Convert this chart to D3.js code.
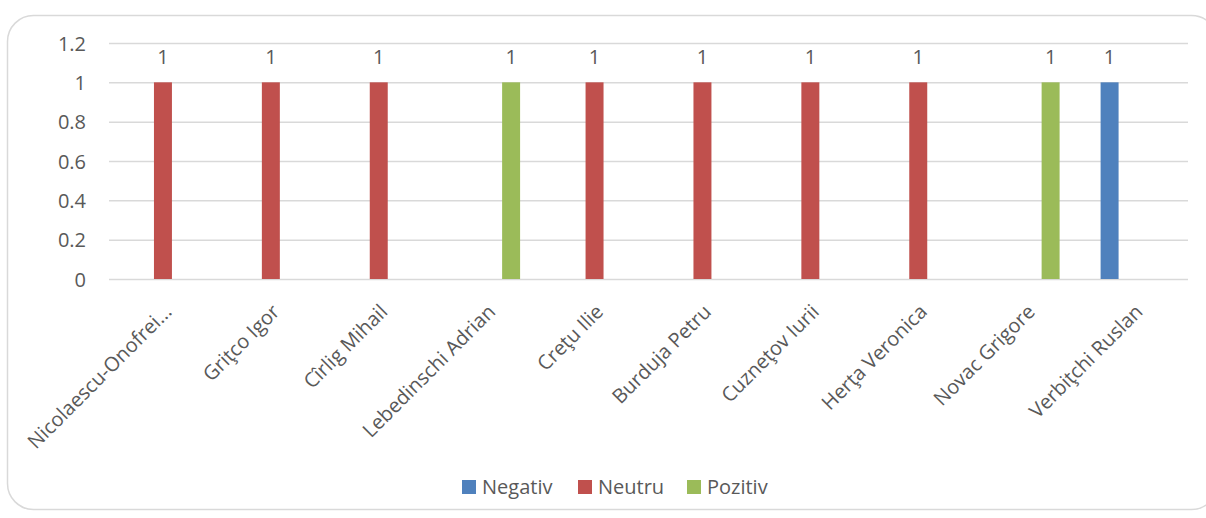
<!DOCTYPE html>
<html><head><meta charset="utf-8">
<script src="https://cdn.jsdelivr.net/npm/d3@7"></script>
<style>body{margin:0;background:#fff}svg{display:block}text{font-family:"Open Sans",sans-serif;fill:#595959}</style>
</head><body><svg id="c" width="1206" height="518"></svg>
<script>
const categories = ["Nicolaescu-Onofrei...","Griţco Igor","Cîrlig Mihail","Lebedinschi Adrian","Creţu Ilie","Burduja Petru","Cuzneţov Iurii","Herţa Veronica","Novac Grigore","Verbiţchi Ruslan"];
const seriesNames = ["Negativ","Neutru","Pozitiv"];
const negativ = [null,null,null,null,null,null,null,null,null,1];
const neutru  = [1,1,1,null,1,1,1,1,null,null];
const pozitiv = [null,null,null,1,null,null,null,null,1,null];
const yTicks = [0,0.2,0.4,0.6,0.8,1,1.2];
const colors = ["#4F81BD","#C0504D","#9BBB59"];
const seriesVals = [negativ, neutru, pozitiv];

const svg = d3.select("#c");
svg.append("rect").attr("x",7.5).attr("y",15.5).attr("width",1210).attr("height",494)
  .attr("rx",26).attr("fill","#fff").attr("stroke","#d9d9d9").attr("stroke-width",1.5);

const L=109, R=1188, T=43, B=279;
const x = d3.scaleBand().domain(categories).range([L,R]).paddingInner(0.32).paddingOuter(0.16);
const xs = d3.scaleBand().domain(seriesNames).range([0,x.bandwidth()]).paddingInner(0.265).paddingOuter(0.1325);
const y = d3.scaleLinear().domain([0,1.2]).range([B,T]);

const yAxis = svg.append("g").attr("transform",`translate(${L},0)`)
  .call(d3.axisLeft(y).tickValues(yTicks).tickSize(-(R-L)).tickPadding(23).tickFormat(d=>d3.format("")(d)));
yAxis.select(".domain").remove();
yAxis.selectAll("line").attr("stroke","#d9d9d9").attr("stroke-width",1.5);
yAxis.selectAll("text").style("font-size","20px").attr("fill","#595959").attr("dy","0.35em");

seriesVals.forEach((vals,si)=>{
  const data = categories.map((c,i)=>({c, v: vals[i]})).filter(d=>d.v!=null);
  svg.append("g").selectAll("rect").data(data).join("rect")
    .attr("x",d=>x(d.c)+xs(seriesNames[si]))
    .attr("width",xs.bandwidth())
    .attr("y",d=>y(d.v)).attr("height",d=>y(0)-y(d.v))
    .attr("fill",colors[si]);
  svg.append("g").selectAll("text").data(data).join("text")
    .attr("x",d=>x(d.c)+xs(seriesNames[si])+xs.bandwidth()/2)
    .attr("y",d=>y(d.v)-18)
    .attr("text-anchor","middle").style("font-size","20px")
    .text(d=>d3.format("")(d.v));
});

const xAxis = svg.append("g").attr("transform",`translate(0,${B})`)
  .call(d3.axisBottom(x).tickSize(0).tickPadding(0));
xAxis.select(".domain").remove();
xAxis.selectAll("text")
  .style("font-size","20px").attr("fill","#595959")
  .attr("text-anchor","end").attr("dy",null).attr("y",0)
  .attr("transform","translate(10,34) rotate(-45)");

const lg = svg.append("g");
const legX = [462,578,687];
seriesNames.forEach((s,i)=>{
  lg.append("rect").attr("x",legX[i]).attr("y",480).attr("width",14).attr("height",14).attr("fill",colors[i]);
  lg.append("text").attr("x",legX[i]+20).attr("y",494).style("font-size","20px").text(s);
});
</script></body></html>
